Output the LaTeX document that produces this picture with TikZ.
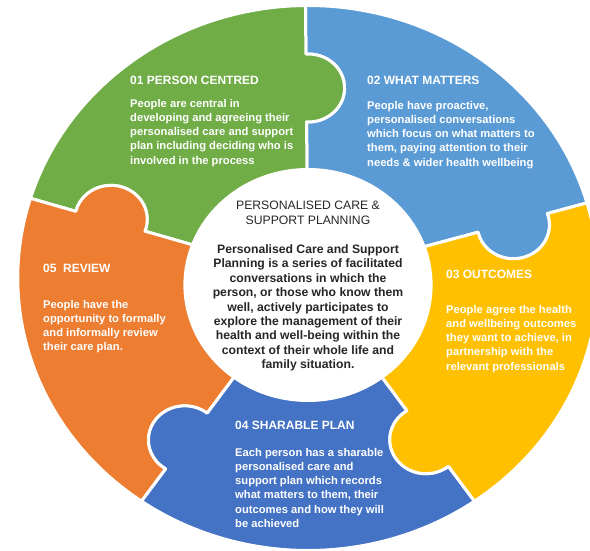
\documentclass[tikz,border=0pt]{standalone}
\usepackage{fontspec}
\setmainfont{Liberation Sans}
\definecolor{pcgreen}{HTML}{70AD47}
\definecolor{pcsky}{HTML}{5B9BD5}
\definecolor{pcgold}{HTML}{FFC000}
\definecolor{pcnavy}{HTML}{4472C4}
\definecolor{pcorange}{HTML}{ED7D31}
\definecolor{pcink}{HTML}{262626}
% ring geometry (pt): outer radius, radius hidden under the hub,
% tab radius, tab half chord, chord angle and swept angle of a tab
\def\Rout{272.5}
\def\Rin{100}
\def\kr{34}
\def\kw{33.94}
\def\ka{3.37}
\def\ksweep{186.74}
% one ring piece: colour, lower edge angle, upper edge angle,
% tab centre radius (lower edge), slot centre radius (upper edge), name;
% the tab sits on the lower edge, the slot on the upper edge
\newcommand{\ringpiece}[6]{%
  \fill[#1, draw=white, line width=3pt, line join=round]
    (#2:\Rin) -- ({#2}:{#4-\kw})
    arc[start angle={#2+180-\ka}, delta angle=\ksweep, radius=\kr]
    -- (#2:\Rout)
    arc[start angle=#2, end angle=#3, radius=\Rout]
    -- ({#3}:{#5+\kw})
    arc[start angle={#3+\ka}, delta angle=-\ksweep, radius=\kr]
    -- (#3:\Rin)
    arc[start angle=#3, end angle=#2, radius=\Rin] -- cycle;
  \coordinate (#6) at ({(#2+#3)/2}:{(#4+#5)/2});
}
\begin{document}
\begin{tikzpicture}[x=1pt,y=1pt,
  head/.style={anchor=base west, inner sep=0pt, text=white,
    font=\fontsize{12}{14}\selectfont\bfseries},
  body/.style={anchor=north west, inner sep=0pt, text=white, align=left,
    font=\fontsize{11.2}{14.2}\selectfont\bfseries},
  hubtitle/.style={anchor=north, inner sep=0pt, text=pcink, align=center,
    font=\fontsize{12.2}{15}\selectfont},
  hubbody/.style={anchor=north, inner sep=0pt, text=pcink, align=center,
    font=\fontsize{12.2}{14.4}\selectfont\bfseries}]
\useasboundingbox (0,0) rectangle (590,551);
\clip (0,0) rectangle (590,551);

\begin{scope}[shift={(308,273)}, xscale=1.065]
  \ringpiece{pcsky}{16}{90.5}{200}{190}{pB}
  \ringpiece{pcgreen}{90.5}{163}{190}{194}{pA}
  \ringpiece{pcorange}{163}{235}{194}{199}{pE}
  \ringpiece{pcnavy}{235}{305}{199}{196}{pD}
  \ringpiece{pcgold}{-55}{16}{196}{200}{pC}
  % white hub in the middle of the ring
  \fill[white] (0,-7) circle[radius=117];
  \coordinate (hub) at (0,-7);
\end{scope}

% 01
\node[head] (h1) at (130,466) {01 PERSON CENTRED};
\node[body] (b1) at (130,452) {People are central in\\developing and agreeing their\\personalised care and support\\plan including deciding who is\\involved in the process};
% 02
\node[head] (h2) at (367,466) {02 WHAT MATTERS};
\node[body] (b2) at (367,450) {People have proactive,\\personalised conversations\\which focus on what matters to\\them, paying attention to their\\needs \& wider health wellbeing};
% 03
\node[head] (h3) at (446,272) {03 OUTCOMES};
\node[body] (b3) at (446,246) {People agree the health\\and wellbeing outcomes\\they want to achieve, in\\partnership with the\\relevant professionals};
% 04
\node[head] (h4) at (235,121) {04 SHARABLE PLAN};
\node[body] (b4) at (235,103) {Each person has a sharable\\personalised care and\\support plan which records\\what matters to them, their\\outcomes and how they will\\be achieved};
% 05
\node[head] (h5) at (43,278) {05\ \ REVIEW};
\node[body] (b5) at (43,251) {People have the\\opportunity to formally\\and informally review\\their care plan.};

% centre
\node[hubtitle] (ht) at (308,350.5) {PERSONALISED CARE \&\\SUPPORT PLANNING};
\node[hubbody] (hb) at (308,306.5) {Personalised Care and Support\\Planning is a series of facilitated\\conversations in which the\\person, or those who know them\\well, actively participates to\\explore the management of their\\health and well-being within the\\context of their whole life and\\family situation.};
\end{tikzpicture}
\end{document}
